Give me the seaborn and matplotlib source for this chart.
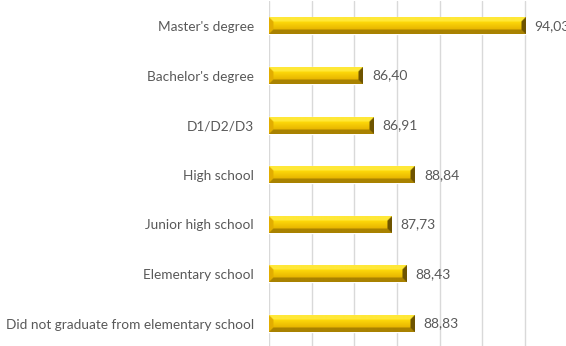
import numpy as np
import pandas as pd
import matplotlib
matplotlib.use("Agg")
import matplotlib.pyplot as plt
from matplotlib.colors import to_rgb
import seaborn as sns

categories = [
    "Master's degree",
    "Bachelor's degree",
    "D1/D2/D3",
    "High school",
    "Junior high school",
    "Elementary school",
    "Did not graduate from elementary school",
]
values = [94.03, 86.40, 86.91, 88.84, 87.73, 88.43, 88.83]
x_ticks = [82, 84, 86, 88, 90, 92, 94, 96]

df = pd.DataFrame({"level": categories, "value": values})

sns.set_theme(style="white")
plt.rcParams["font.family"] = ["Lato", "DejaVu Sans"]

W_PX, H_PX, DPI = 566, 346, 100
fig = plt.figure(figsize=(W_PX / DPI, H_PX / DPI), dpi=DPI)
fig.patch.set_facecolor("white")

X0, X1 = x_ticks[0], x_ticks[-1]
ax_left_px, ax_w_px = 269.0, 298.7
ax = fig.add_axes([ax_left_px / W_PX, -2.4 / H_PX, ax_w_px / W_PX, 347.2 / H_PX])

FACE = "#F2C600"
sns.barplot(data=df, x="value", y="level", orient="h", color=FACE,
            width=0.34, saturation=1, ax=ax, zorder=2)

ax.set_xlim(X0, X1)
ax.set_ylim(len(categories) - 0.5, -0.5)
ax.set_xticks(x_ticks)
ax.xaxis.grid(True, color="#D9D9D9", linewidth=1.0, zorder=0)
ax.yaxis.grid(False)
ax.set_xticklabels([])
ax.tick_params(axis="x", length=0)
ax.tick_params(axis="y", length=0, pad=11, labelsize=9.8, labelcolor="#595959")
for s in ax.spines.values():
    s.set_visible(False)
ax.set_xlabel("")
ax.set_ylabel("")

# Bevelled gold finish laid over each bar
px_per_unit = ax_w_px / (X1 - X0)
bar_h_px = 17.0
bevel = 4.5
k = 4
c_top = np.array(to_rgb("#FFE838"))
c_face_hi = np.array(to_rgb("#FFDA0A"))
c_face_lo = np.array(to_rgb("#E6B400"))
c_bot = np.array(to_rgb("#A98200"))
c_left = np.array(to_rgb("#E2AE00"))
c_right = np.array(to_rgb("#6E5400"))

for patch, v in zip(ax.patches, values):
    y0 = patch.get_y()
    h = patch.get_height()
    L = (v - X0) * px_per_unit
    nx = max(int(round(L * k)), 2)
    ny = int(round(bar_h_px * k))
    u = (np.arange(nx) + 0.5) / k
    w = (np.arange(ny) + 0.5) / k
    U, V = np.meshgrid(u, w)
    dl, dr, dt, db = U, L - U, V, bar_h_px - V
    d = np.stack([dt, db, dl, dr])
    which = np.argmin(d, axis=0)
    dmin = np.min(d, axis=0)
    t = (V - bevel) / (bar_h_px - 2 * bevel)
    t = np.clip(t, 0, 1)[..., None]
    img = c_face_hi * (1 - t) + c_face_lo * t
    facet_cols = [c_top, c_bot, c_left, c_right]
    for i, col in enumerate(facet_cols):
        m = (dmin < bevel) & (which == i)
        img[m] = col
    ax.imshow(img, extent=[X0, v, y0 + h, y0], aspect="auto",
              interpolation="bilinear", zorder=3)

for i, v in enumerate(values):
    ax.annotate(f"{v:.2f}".replace(".", ","), xy=(v, i), xytext=(6.5, 0),
                textcoords="offset points", va="center", ha="left",
                fontsize=10, color="#595959", annotation_clip=False)

ax.set_xlim(X0, X1)
ax.set_ylim(len(categories) - 0.5, -0.5)

fig.savefig("out.png", dpi=DPI)
